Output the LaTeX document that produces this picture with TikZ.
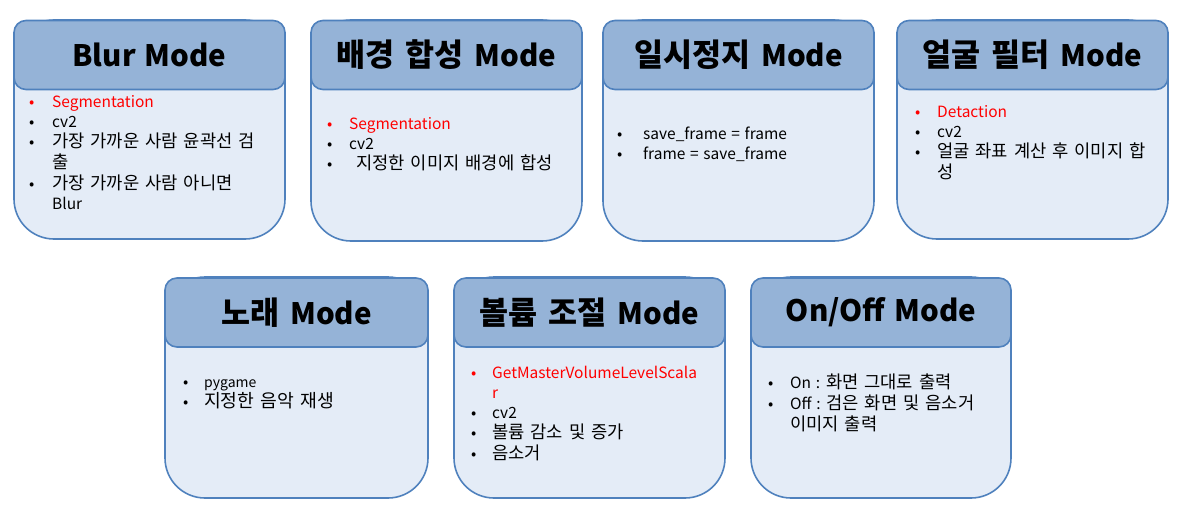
\documentclass[tikz,border=0pt]{standalone}
\usepackage{fontspec}
\setmainfont{Noto Sans CJK KR}[WordSpace=1.35]
\newfontfamily\kofont{Noto Sans CJK KR}[Scale=1.14,WordSpace=1.5]
\newfontfamily\kotitlefont{Noto Sans CJK KR}[Scale=1.07,WordSpace=1.5]
\usepackage{array}
\definecolor{headblue}{HTML}{95B3D7}
\definecolor{bodyblue}{HTML}{E4ECF7}
\definecolor{lineblue}{HTML}{4F81BD}
\tikzset{
  cardbody/.style={draw=lineblue,fill=bodyblue,line width=1.6pt,rounded corners=40pt},
  cardhead/.style={draw=lineblue,fill=headblue,line width=1.6pt,rounded corners=12pt,
    inner sep=0pt,minimum height=69pt,font=\fontsize{29.5}{32}\selectfont\bfseries},
  cardlist/.style={anchor=north west,inner sep=0pt,align=left,font=\fontsize{15.5}{20}\selectfont},
}
\newcommand{\ko}[1]{{\kofont #1}}
\newcommand{\kotitle}[1]{{\kotitlefont #1}}
\newcommand{\redbul}{\textcolor{red}{•}}
\newcommand{\redtxt}[1]{\textcolor{red}{#1}}

\begin{document}
\begin{tikzpicture}[x=1pt,y=-1pt]
  \useasboundingbox (0,0) rectangle (1181,508);
  % top row
  % blur
  \draw[cardbody] (14,20) rectangle (285,239);
  \node[cardhead,minimum width=271pt] (blurhead) at (149.5,55) {Blur Mode};
  \node[cardlist] (blurlist) at (29,93) {\begin{tabular}{@{}p{23pt}@{}l@{}}
    \redbul & \redtxt{Segmentation}\\
    • & cv2\\
    • & \ko{가장 가까운 사람 윤곽선 검}\\
      & \ko{출}\\
    • & \ko{가장 가까운 사람 아니면}\\
      & Blur
  \end{tabular}};
  % background
  \draw[cardbody] (311,20) rectangle (582,241);
  \node[cardhead,minimum width=271pt] (bghead) at (446.5,55) {\kotitle{배경 합성 }Mode};
  \node[cardlist] (bglist) at (327,115) {\begin{tabular}{@{}p{22pt}@{}l@{}}
    \redbul & \redtxt{Segmentation}\\
    • & cv2\\
    • & \hspace{7pt}\ko{지정한 이미지 배경에 합성}
  \end{tabular}};
  % pause
  \draw[cardbody] (603,20) rectangle (874,241);
  \node[cardhead,minimum width=271pt] (pausehead) at (738.5,55) {\kotitle{일시정지 }Mode};
  \node[cardlist] (pauselist) at (617,125) {\begin{tabular}{@{}p{26pt}@{}l@{}}
    • & save\_frame = frame\\
    • & frame = save\_frame
  \end{tabular}};
  % face filter
  \draw[cardbody] (897,20) rectangle (1168,239);
  \node[cardhead,minimum width=271pt] (facehead) at (1032.5,55) {\kotitle{얼굴 필터 }Mode};
  \node[cardlist] (facelist) at (915,103) {\begin{tabular}{@{}p{22pt}@{}l@{}}
    \redbul & \redtxt{Detaction}\\
    • & cv2\\
    • & \ko{얼굴 좌표 계산 후 이미지 합}\\
      & \ko{성}
  \end{tabular}};
  % bottom row
  % song
  \draw[cardbody] (165,277) rectangle (428,498);
  \node[cardhead,minimum width=263pt] (songhead) at (296.5,312.5) {\kotitle{노래 }Mode};
  \node[cardlist] (songlist) at (183,375) {\renewcommand{\arraystretch}{0.85}\begin{tabular}{@{}p{21pt}@{}l@{}}
    • & {\fontsize{14}{17}\selectfont pygame}\\
    • & {\fontsize{16}{20}\selectfont\ko{지정한 음악 재생}}
  \end{tabular}};
  % volume
  \draw[cardbody] (454,277) rectangle (725,498);
  \node[cardhead,minimum width=271pt] (volhead) at (589.5,312.5) {\kotitle{볼륨 조절 }Mode};
  \node[cardlist] (vollist) at (471,364) {\begin{tabular}{@{}p{21pt}@{}l@{}}
    \redbul & \redtxt{GetMasterVolumeLevelScala}\\
      & \redtxt{r}\\
    • & cv2\\
    • & \ko{볼륨 감소 및 증가}\\
    • & \ko{음소거}
  \end{tabular}};
  % on/off
  \draw[cardbody] (751,277) rectangle (1011,498);
  \node[cardhead,minimum width=260pt] (onoffhead) at (881,312.5) {On/Off Mode};
  \node[cardlist] (onofflist) at (768,374) {\begin{tabular}{@{}p{22pt}@{}l@{}}
    • & On : \ko{화면 그대로 출력}\\
    • & Off : \ko{검은 화면 및 음소거}\\
      & \ko{이미지 출력}
  \end{tabular}};
\end{tikzpicture}
\end{document}
